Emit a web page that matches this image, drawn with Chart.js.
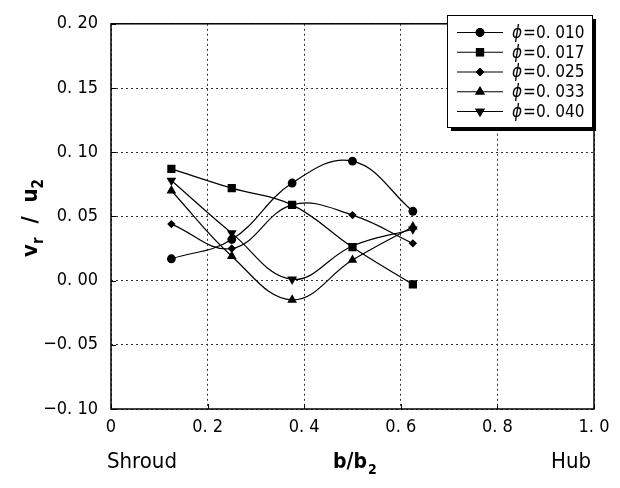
<!DOCTYPE html>
<html><head><meta charset="utf-8">
<script src="https://cdn.jsdelivr.net/npm/chart.js@4.4.1/dist/chart.umd.min.js"></script>
<style>html,body{margin:0;padding:0;background:#fff;} #wrap{width:620px;height:488px;}</style>
</head><body><div id="wrap"><canvas id="c" width="620" height="488"></canvas></div>
<script>
// ---- data ----
const xPositions = [0.125, 0.25, 0.375, 0.5, 0.625];
const phi010 = [0.017, 0.032, 0.076, 0.093, 0.054];
const phi017 = [0.087, 0.072, 0.059, 0.026, -0.003];
const phi025 = [0.044, 0.025, 0.059, 0.051, 0.029];
const phi033 = [0.070, 0.019, -0.015, 0.016, 0.042];
const phi040 = [0.078, 0.037, 0.001, 0.027, 0.040];
const seriesLabels = ["ϕ=0. 010", "ϕ=0. 017", "ϕ=0. 025", "ϕ=0. 033", "ϕ=0. 040"];
const xTickValues = [0, 0.2, 0.4, 0.6, 0.8, 1.0];
const xTickLabels = ["0", "0. 2", "0. 4", "0. 6", "0. 8", "1. 0"];
const yTickValues = [-0.1, -0.05, 0, 0.05, 0.1, 0.15, 0.2];
const yTickLabels = ["\u22120. 10", "\u22120. 05", "0. 00", "0. 05", "0. 10", "0. 15", "0. 20"];
const xAxisTitle = ["b/b", "2"];
const yAxisTitle = [["v", false], ["r", true], ["  /  ", false], ["u", false], ["2", true]];
const leftNote = "Shroud";
const rightNote = "Hub";

// ---- styles ----
const FONT = '"DejaVu Sans Condensed", "Noto Sans", sans-serif';
const markerStyles = ['circle', 'rect', 'rectRot', 'triangle', 'triangle'];
const markerRot = [0, 0, 0, 0, 180];
const markerSize = [4.4, 5.8, 4.2, 5.6, 5.6];
const seriesValues = [phi010, phi017, phi025, phi033, phi040];

const datasets = seriesValues.map((vals, i) => ({
  label: seriesLabels[i],
  data: vals.map((v, j) => ({x: xPositions[j], y: v})),
  borderColor: '#000',
  backgroundColor: '#000',
  borderWidth: 1.2,
  tension: 0.4,
  fill: false,
  pointStyle: markerStyles[i],
  rotation: markerRot[i],
  pointRadius: markerSize[i],
  pointBorderWidth: 0,
  pointBackgroundColor: '#000'
}));

function lookup(vals, labels, v) {
  for (let i = 0; i < vals.length; i++) if (Math.abs(vals[i] - v) < 1e-6) return labels[i];
  return '';
}

const decor = {
  id: 'decor',
  afterDraw(chart) {
    const ctx = chart.ctx, a = chart.chartArea;
    const xs = chart.scales.x, ys = chart.scales.y;
    ctx.save();
    // border
    ctx.strokeStyle = '#000';
    ctx.lineWidth = 1.5;
    ctx.setLineDash([]);
    ctx.strokeRect(a.left, a.top, a.right - a.left, a.bottom - a.top);
    // inner tick marks
    ctx.lineWidth = 1;
    xTickValues.forEach(v => {
      const px = Math.round(xs.getPixelForValue(v)) + 0.5;
      ctx.beginPath(); ctx.moveTo(px, a.bottom); ctx.lineTo(px, a.bottom - 5); ctx.stroke();
    });
    yTickValues.forEach(v => {
      const py = Math.round(ys.getPixelForValue(v)) + 0.5;
      ctx.beginPath(); ctx.moveTo(a.left, py); ctx.lineTo(a.left + 5, py); ctx.stroke();
    });
    // x axis title with subscript
    ctx.fillStyle = '#000';
    ctx.textBaseline = 'alphabetic';
    ctx.textAlign = 'left';
    ctx.font = 'bold 21px ' + FONT;
    const w1 = ctx.measureText(xAxisTitle[0]).width;
    ctx.fillText(xAxisTitle[0], 333, 468);
    ctx.font = 'bold 14px ' + FONT;
    ctx.fillText(xAxisTitle[1], 333 + w1 + 1, 474);
    // notes
    ctx.font = '22px ' + FONT;
    ctx.textAlign = 'left';
    ctx.fillText(leftNote, 107, 468);
    ctx.textAlign = 'right';
    ctx.fillText(rightNote, 591, 468);
    // y axis title (rotated)
    ctx.save();
    ctx.translate(37, 218);
    ctx.rotate(-Math.PI / 2);
    let total = 0;
    const parts = yAxisTitle.map(([t, sub]) => {
      ctx.font = 'bold ' + (sub ? 15 : 22) + 'px ' + FONT;
      const w = ctx.measureText(t).width;
      total += w;
      return [t, sub, w];
    });
    let cx = -total / 2;
    ctx.textAlign = 'left';
    parts.forEach(([t, sub, w]) => {
      ctx.font = 'bold ' + (sub ? 15 : 22) + 'px ' + FONT;
      ctx.fillText(t, cx, sub ? 6 : 0);
      cx += w;
    });
    ctx.restore();
    // legend
    const bx = 447, by = 15, bw = 145, bh = 112;
    ctx.fillStyle = '#000';
    ctx.fillRect(bx + 4, by + 4, bw, bh);
    ctx.fillStyle = '#fff';
    ctx.fillRect(bx, by, bw, bh);
    ctx.strokeStyle = '#000';
    ctx.lineWidth = 1;
    ctx.strokeRect(bx + 0.5, by + 0.5, bw, bh);
    chart.data.datasets.forEach((ds, i) => {
      const y = 32.5 + i * 19.75;
      ctx.strokeStyle = '#000';
      ctx.lineWidth = 1.2;
      ctx.beginPath(); ctx.moveTo(457, y); ctx.lineTo(503, y); ctx.stroke();
      ctx.fillStyle = '#000';
      Chart.helpers.drawPoint(ctx, {pointStyle: ds.pointStyle, rotation: ds.rotation, radius: ds.pointRadius, borderWidth: 0}, 480, y);
      ctx.fill();
      const lab = ds.label;
      ctx.textAlign = 'left';
      ctx.textBaseline = 'middle';
      ctx.font = 'italic 17px ' + FONT;
      ctx.fillText(lab[0], 512, y + 1);
      const pw = ctx.measureText(lab[0]).width;
      ctx.font = '17px ' + FONT;
      ctx.fillText(lab.slice(1), 512 + pw + 1, y + 1);
    });
    ctx.restore();
  }
};

new Chart(document.getElementById('c'), {
  type: 'line',
  data: {datasets},
  options: {
    responsive: false,
    devicePixelRatio: 1,
    animation: false,
    layout: {padding: {top: 15, right: 26, left: 0, bottom: 0}},
    plugins: {legend: {display: false}, tooltip: {enabled: false}},
    elements: {point: {hoverRadius: 5}},
    scales: {
      x: {
        type: 'linear', min: 0, max: 1,
        afterFit: s => { s.height = 79; },
        afterBuildTicks: s => { s.ticks = xTickValues.map(v => ({value: v})); },
        ticks: {
          padding: 8, color: '#000', maxRotation: 0, autoSkip: false,
          font: {family: FONT, size: 18},
          callback: v => lookup(xTickValues, xTickLabels, v)
        },
        grid: {color: '#333', lineWidth: 1, drawTicks: false},
        border: {display: false, dash: [2, 3]}
      },
      y: {
        type: 'linear', min: -0.1, max: 0.2,
        afterFit: s => { s.width = 111; },
        afterBuildTicks: s => { s.ticks = yTickValues.map(v => ({value: v})); },
        ticks: {
          padding: 13, color: '#000', autoSkip: false,
          font: {family: FONT, size: 18},
          callback: v => lookup(yTickValues, yTickLabels, v)
        },
        grid: {color: '#333', lineWidth: 1, drawTicks: false},
        border: {display: false, dash: [2, 3]}
      }
    }
  },
  plugins: [decor]
});
</script>
</body></html>
